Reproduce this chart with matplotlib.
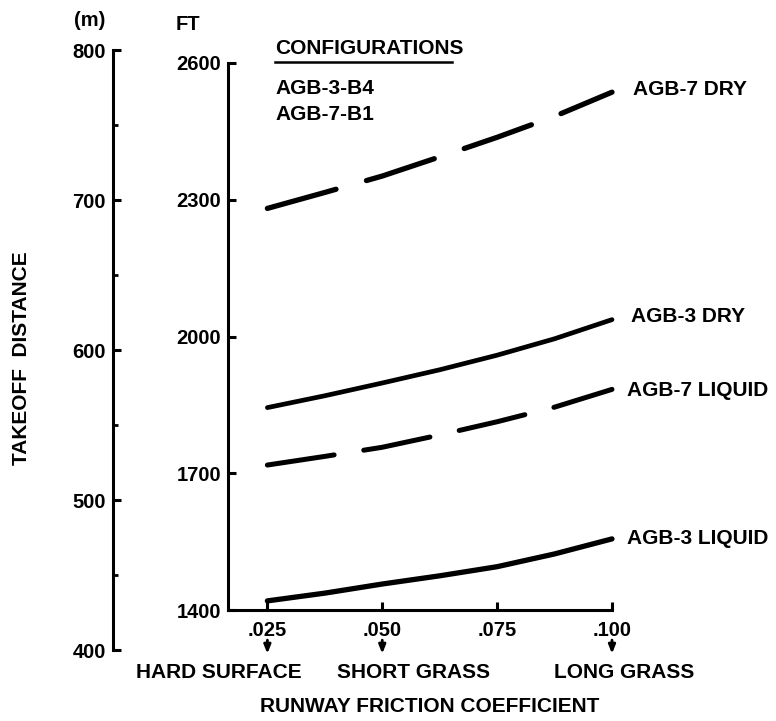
import matplotlib
matplotlib.use("Agg")
import matplotlib.pyplot as plt
from matplotlib.ticker import FixedLocator

plt.rcParams['font.family'] = ['Liberation Sans', 'DejaVu Sans']
plt.rcParams['font.weight'] = 'bold'

# ---- data ----
friction = [0.025, 0.0375, 0.05, 0.0625, 0.075, 0.0875, 0.100]
agb7_dry = [2281, 2316, 2352, 2394, 2437, 2483, 2536]
agb3_dry = [1844, 1870, 1898, 1927, 1959, 1995, 2037]
agb7_liquid = [1718, 1737, 1757, 1784, 1813, 1845, 1884]
agb3_liquid = [1420, 1437, 1457, 1475, 1495, 1523, 1556]

series_names = ["AGB-7 DRY", "AGB-3 DRY", "AGB-7 LIQUID", "AGB-3 LIQUID"]
config_names = ["AGB-3-B4", "AGB-7-B1"]

x_ticks = [0.025, 0.050, 0.075, 0.100]
x_tick_labels = [".025", ".050", ".075", ".100"]
surface_names = ["HARD SURFACE", "SHORT GRASS", "LONG GRASS"]
surface_x = [0.025, 0.050, 0.100]

ft_ticks = [1400, 1700, 2000, 2300, 2600]
m_ticks = [400, 500, 600, 700, 800]
m_minor = [450, 550, 650, 750]

W, H = 776, 721
fig = plt.figure(figsize=(W / 100, H / 100), dpi=100)


def fx(x):
    return x / W


def fy(y):
    return 1 - y / H


TXT = 15
TICK = 14.5

# ---- main (feet) axes ----
ax = fig.add_axes([fx(228), fy(610), fx(612) - fx(228), fy(63) - fy(610)])
ax.set_xlim(0.01643, 0.100)
ax.set_ylim(1400, 2600)
for s in ["top", "right"]:
    ax.spines[s].set_visible(False)
for s in ["left", "bottom"]:
    ax.spines[s].set_linewidth(2.2)
ax.set_xticks(x_ticks)
ax.set_xticklabels(x_tick_labels)
ax.set_yticks(ft_ticks)
ax.set_yticklabels([str(v) for v in ft_ticks])
ax.tick_params(axis='both', direction='in', length=5.5, width=2.2,
               labelsize=TICK)
ax.tick_params(axis='x', pad=8)
ax.tick_params(axis='y', pad=5)
ax.patch.set_alpha(0)

ax.plot(friction, agb7_dry, color='black', lw=3.8, dashes=(13.5, 6),
        dash_capstyle='round', clip_on=False)
ax.plot(friction, agb3_dry, color='black', lw=3.4, solid_capstyle='round',
        clip_on=False)
ax.plot(friction, agb7_liquid, color='black', lw=3.6, dashes=(13.5, 6),
        dash_capstyle='round', clip_on=False)
ax.plot(friction, agb3_liquid, color='black', lw=3.8, solid_capstyle='round',
        clip_on=False)

ends = [agb7_dry[-1], agb3_dry[-1], agb7_liquid[-1], agb3_liquid[-1]]
offs = [(15, 2), (14, 2), (11, -1), (11, 0)]
for name, yv, off in zip(series_names, ends, offs):
    ax.annotate(name, xy=(friction[-1], yv), xytext=off,
                textcoords='offset points', ha='left', va='center',
                fontsize=TXT, fontweight='bold', annotation_clip=False)

# arrows under tick labels
for xs in surface_x:
    ax.annotate("", xy=(xs, -0.085), xytext=(xs, -0.050),
                xycoords=('data', 'axes fraction'),
                textcoords=('data', 'axes fraction'),
                arrowprops=dict(arrowstyle='-|>,head_length=0.5,head_width=0.2',
                                color='black', lw=2.0))

# ---- metres axis ----
axm = fig.add_axes([fx(113), fy(650), 0.0005, fy(50) - fy(650)])
axm.set_ylim(400, 800)
for s in ["top", "right", "bottom"]:
    axm.spines[s].set_visible(False)
axm.spines["left"].set_linewidth(2.2)
axm.set_xticks([])
axm.yaxis.set_major_locator(FixedLocator(m_ticks))
axm.yaxis.set_minor_locator(FixedLocator(m_minor))
axm.set_yticklabels([str(v) for v in m_ticks])
axm.tick_params(axis='y', which='major', direction='in', length=5.5,
                width=2.2, labelsize=TICK, pad=5)
axm.tick_params(axis='y', which='minor', direction='in', length=3.5,
                width=2.0)
axm.patch.set_alpha(0)

# ---- texts ----
fig.text(fx(90), fy(20), "(m)", ha='center', va='center', fontsize=TICK,
         fontweight='bold')
fig.text(fx(188), fy(24), "FT", ha='center', va='center', fontsize=TICK,
         fontweight='bold')
fig.text(fx(22), fy(358), "TAKEOFF  DISTANCE", rotation=90, ha='center',
         va='center', fontsize=TXT, fontweight='bold')

fig.text(fx(275), fy(48), "CONFIGURATIONS", ha='left', va='center',
         fontsize=TXT, fontweight='bold')
fig.add_artist(plt.Line2D([fx(275), fx(452)], [fy(62), fy(62)],
                          color='black', lw=1.8, transform=fig.transFigure))
for i, c in enumerate(config_names):
    fig.text(fx(275), fy(89 + 25 * i), c, ha='left', va='center',
             fontsize=TXT, fontweight='bold')

surface_px = [219, 414, 624]
for name, xp in zip(surface_names, surface_px):
    fig.text(fx(xp), fy(673), name, ha='center', va='center', fontsize=TXT,
             fontweight='bold')
fig.text(fx(430), fy(706), "RUNWAY FRICTION COEFFICIENT", ha='center',
         va='center', fontsize=TXT, fontweight='bold')

fig.savefig("out.png", dpi=100, facecolor='white')
